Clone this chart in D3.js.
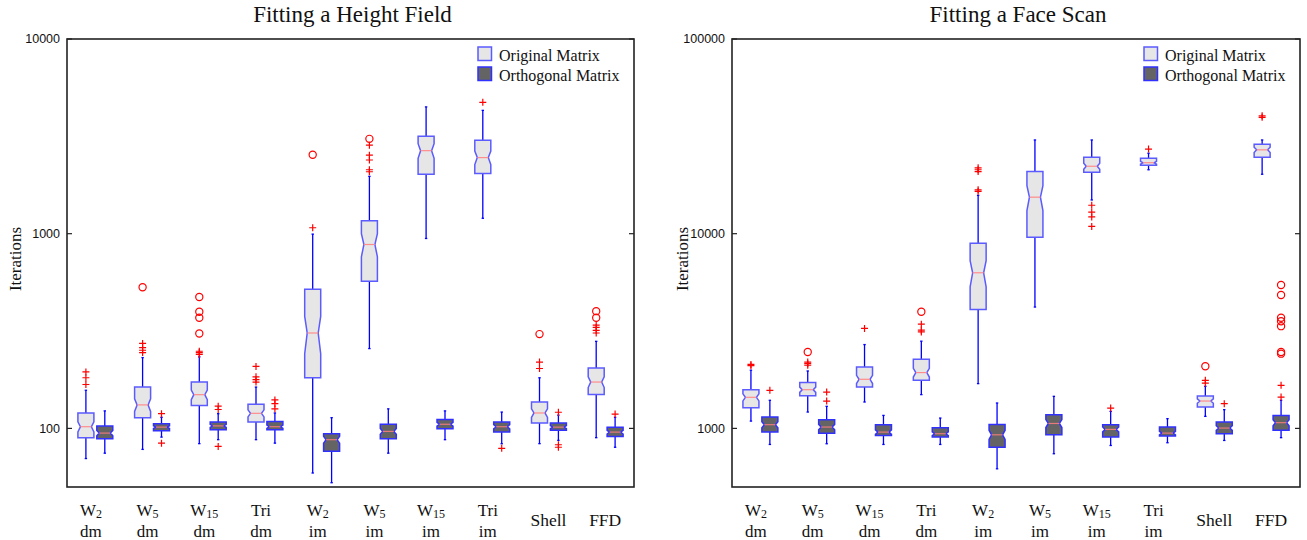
<!DOCTYPE html>
<html lang="en">
<head>
<meta charset="UTF-8">
<title>Fitting boxplots</title>
<script src="https://cdnjs.cloudflare.com/ajax/libs/d3/7.8.5/d3.min.js"></script>
<style>
  body { margin: 0; background: #fff; }
  svg { display: block; }
  .serif { font-family: "Liberation Serif", "DejaVu Serif", serif; fill: #111; }
  .tick-label { font-family: "Liberation Sans", Arial, sans-serif; font-size: 12.5px; fill: #111; }
</style>
</head>
<body>
<svg width="1307" height="540"></svg>
<script>
// categories: main text, subscript, second line
const catMain = ["W", "W", "W", "Tri", "W", "W", "W", "Tri", "Shell", "FFD"];
const catSub  = ["2", "5", "15", "", "2", "5", "15", "", "", ""];
const catLine2 = ["dm", "dm", "dm", "dm", "im", "im", "im", "im", "", ""];

// box stats: [whisker low, q1, median, q3, whisker high]
// --- Fitting a Height Field ---
const hfOrig = [
  [70, 89.5, 102, 120, 157], [78, 113.5, 132, 163, 231], [83.5, 131, 149, 173, 233],
  [87.5, 108, 119.5, 133, 163], [59, 182, 309, 518, 995], [257, 569, 880, 1166, 1970],
  [945, 2020, 2670, 3170, 4480], [1200, 2040, 2460, 3020, 4300], [83.5, 106.5, 120, 136.6, 182],
  [89.6, 149.5, 173, 204, 280]
];
const hfOrigPlus = [[168, 182, 195], [245, 252, 260, 273], [240, 245, 249], [173, 178, 184, 208], [1073],
  [2080, 2130, 2390, 2530, 2850], [], [4730], [203, 219], [309, 319, 330, 339]];
const hfOrigCircle = [[], [531], [307, 370, 397, 473], [], [2545], [3070], [], [], [305], [370, 400]];

const hfOrth = [
  [74.6, 88.5, 94.6, 103, 123], [90.2, 97.3, 101.5, 105.7, 114], [87.5, 98.4, 103, 107.8, 119],
  [84, 98.4, 102, 108.6, 120], [52.6, 76.4, 87.5, 93.9, 113.5], [74.6, 88.5, 96.5, 105, 126],
  [87.5, 99.6, 105, 111, 123], [83.4, 95.7, 102, 108, 121.3], [86.8, 97.7, 101.5, 106.5, 117],
  [80, 90.9, 95.7, 101.5, 114]
];
const hfOrthPlus = [[], [84, 119], [80.8, 125, 130], [126, 134, 140], [], [], [], [79], [80, 82.4, 121], [118.5]];
const hfOrthCircle = [[], [], [], [], [], [], [], [], [], []];

// --- Fitting a Face Scan ---
const fsOrig = [
  [1090, 1278, 1444, 1580, 1990], [1213, 1473, 1580, 1719, 1972], [1366, 1632, 1787, 2068, 2695],
  [1491, 1766, 1935, 2264, 2805], [1698, 4080, 6300, 8920, 15740], [4200, 9580, 15400, 20850, 30300],
  [14900, 20700, 22200, 24700, 30300], [21300, 22500, 23150, 24400, 25900], [1153, 1287, 1382, 1466, 1645],
  [20200, 24700, 26960, 28800, 30300]
];
const fsOrigPlus = [[2100, 2130], [2110, 2150, 2190], [3260], [3130, 3195, 3430], [16500, 16800, 20850, 21300, 21800],
  [], [10900, 12200, 12900, 14000], [27200], [1710, 1766], [39600, 40300]];
const fsOrigCircle = [[], [2470], [], [3970], [], [], [], [], [2084], []];

const fsOrth = [
  [827, 957, 1045, 1143, 1394], [834, 945, 1016, 1108, 1298], [827, 920, 957, 1045, 1166],
  [827, 902, 939, 1008, 1130], [620, 801, 927, 1048, 1350], [741, 927, 1060, 1176, 1461],
  [817, 902, 988, 1045, 1223], [844, 913, 946, 1016, 1122], [867, 939, 1004, 1078, 1248],
  [896, 977, 1070, 1166, 1394]
];
const fsOrthPlus = [[1568], [1381, 1537], [], [], [], [], [1272], [], [1339], [1449, 1665]];
const fsOrthCircle = [[], [], [], [], [], [], [], [], [], [2420, 2470, 3350, 3550, 3700, 4840, 5450]];

const hfTicks = [100, 1000, 10000];
const fsTicks = [1000, 10000, 100000];

const svg = d3.select("svg");

const panels = [
  { title: "Fitting a Height Field", left: 67, right: 634, yDomain: [50, 10000], ticks: hfTicks,
    orig: hfOrig, origPlus: hfOrigPlus, origCircle: hfOrigCircle,
    orth: hfOrth, orthPlus: hfOrthPlus, orthCircle: hfOrthCircle, ylabX: 16 },
  { title: "Fitting a Face Scan", left: 732, right: 1300, yDomain: [500, 100000], ticks: fsTicks,
    orig: fsOrig, origPlus: fsOrigPlus, origCircle: fsOrigCircle,
    orth: fsOrth, orthPlus: fsOrthPlus, orthCircle: fsOrthCircle, ylabX: 683 }
];

const plotTop = 39, plotBottom = 487;
const boxHalf = 8, notchIn = 2.5;

const styles = {
  orig: { fill: "#e6e6e6", stroke: "#5b5bff", median: "#ff8c8c" },
  orth: { fill: "#646464", stroke: "#3030ff", median: "#e87a7a" }
};

panels.forEach(p => drawPanel(p));

function drawPanel(p) {
  const g = svg.append("g");
  const x = d3.scaleLinear().domain([2 / 3, 10 + 2 / 3]).range([p.left, p.right]);
  const y = d3.scaleLog().domain(p.yDomain).range([plotBottom, plotTop]);

  // title
  g.append("text").attr("class", "serif")
    .attr("x", (p.left + p.right) / 2 + 2).attr("y", 22)
    .attr("text-anchor", "middle").style("font-size", "23px")
    .text(p.title);

  // y axis label
  g.append("text").attr("class", "serif")
    .attr("transform", `translate(${p.ylabX + 5},${(plotTop + plotBottom) / 2 - 4}) rotate(-90)`)
    .attr("text-anchor", "middle").style("font-size", "17px")
    .text("Iterations");

  // ticks, inward on both sides
  p.ticks.forEach(t => {
    const yy = y(t);
    g.append("line").attr("x1", p.left).attr("x2", p.left + 5).attr("y1", yy).attr("y2", yy)
      .attr("stroke", "#222").attr("stroke-width", 1.2);
    g.append("line").attr("x1", p.right).attr("x2", p.right - 5).attr("y1", yy).attr("y2", yy)
      .attr("stroke", "#222").attr("stroke-width", 1.2);
    g.append("text").attr("class", "tick-label")
      .attr("x", p.left - 7).attr("y", yy).attr("dy", "0.35em")
      .attr("text-anchor", "end").text(d3.format("d")(t));
  });

  // boxes
  const series = [
    { key: "orig", off: 0, stats: p.orig, plus: p.origPlus, circ: p.origCircle },
    { key: "orth", off: 1 / 3, stats: p.orth, plus: p.orthPlus, circ: p.orthCircle }
  ];
  series.forEach(s => {
    const st = styles[s.key];
    s.stats.forEach((d, i) => {
      const cx = x(i + 1 + s.off);
      const [lo, q1, med, q3, hi] = d;
      const iqr = q3 - q1;
      const nLo = Math.max(q1, med - 0.2 * iqr), nHi = Math.min(q3, med + 0.2 * iqr);
      const bg = g.append("g");

      // whiskers
      bg.append("line").attr("x1", cx).attr("x2", cx).attr("y1", y(q3)).attr("y2", y(hi))
        .attr("stroke", "#0000ff").attr("stroke-width", 1.3);
      bg.append("line").attr("x1", cx).attr("x2", cx).attr("y1", y(q1)).attr("y2", y(lo))
        .attr("stroke", "#0000ff").attr("stroke-width", 1.3);
      [lo, hi].forEach(v => bg.append("line").attr("x1", cx - 1.2).attr("x2", cx + 1.2)
        .attr("y1", y(v)).attr("y2", y(v)).attr("stroke", "#0000ff").attr("stroke-width", 1.3));

      // notched box
      const L = cx - boxHalf, R = cx + boxHalf;
      const pts = [
        [L, y(q3)], [L, y(nHi)], [L + notchIn, y(med)], [L, y(nLo)], [L, y(q1)],
        [R, y(q1)], [R, y(nLo)], [R - notchIn, y(med)], [R, y(nHi)], [R, y(q3)]
      ];
      bg.append("path").attr("d", d3.line()(pts) + "Z")
        .attr("fill", st.fill).attr("stroke", st.stroke).attr("stroke-width", 1.5);
      bg.append("line").attr("x1", L + notchIn).attr("x2", R - notchIn)
        .attr("y1", y(med)).attr("y2", y(med))
        .attr("stroke", st.median).attr("stroke-width", 1.2);

      // outliers
      s.plus[i].forEach(v => {
        const py = y(v);
        bg.append("path").attr("d", `M${cx - 3.5},${py}H${cx + 3.5}M${cx},${py - 3.5}V${py + 3.5}`)
          .attr("stroke", "#ff0000").attr("stroke-width", 1.2).attr("fill", "none");
      });
      s.circ[i].forEach(v => {
        bg.append("circle").attr("cx", cx).attr("cy", y(v)).attr("r", 3.6)
          .attr("fill", "none").attr("stroke", "#ff0000").attr("stroke-width", 1.2);
      });
    });
  });

  // frame
  g.append("rect").attr("x", p.left).attr("y", plotTop)
    .attr("width", p.right - p.left).attr("height", plotBottom - plotTop)
    .attr("fill", "none").attr("stroke", "#222").attr("stroke-width", 1.6);

  // category labels
  catMain.forEach((m, i) => {
    const lx = x(i + 1) + 5;
    if (catLine2[i]) {
      const t = g.append("text").attr("class", "serif").attr("x", lx).attr("y", 516)
        .attr("text-anchor", "middle").style("font-size", "17px");
      t.append("tspan").text(m);
      if (catSub[i]) t.append("tspan").attr("dy", 2).style("font-size", "12px").text(catSub[i]);
      g.append("text").attr("class", "serif").attr("x", lx).attr("y", 536.5)
        .attr("text-anchor", "middle").style("font-size", "17px").text(catLine2[i]);
    } else {
      g.append("text").attr("class", "serif").attr("x", lx + 4).attr("y", 526)
        .attr("text-anchor", "middle").style("font-size", "17.5px").text(m);
    }
  });

  // legend
  const lgx = p.right - 156;
  [["orig", "Original Matrix", 47], ["orth", "Orthogonal Matrix", 67]].forEach(([k, label, ly]) => {
    g.append("rect").attr("x", lgx).attr("y", ly).attr("width", 13.5).attr("height", 13.5)
      .attr("fill", styles[k].fill).attr("stroke", styles[k].stroke).attr("stroke-width", 1.5);
    g.append("text").attr("class", "serif").attr("x", lgx + 21).attr("y", ly + 8.5)
      .attr("dy", "0.35em").style("font-size", "16px").text(label);
  });
}
</script>
</body>
</html>
